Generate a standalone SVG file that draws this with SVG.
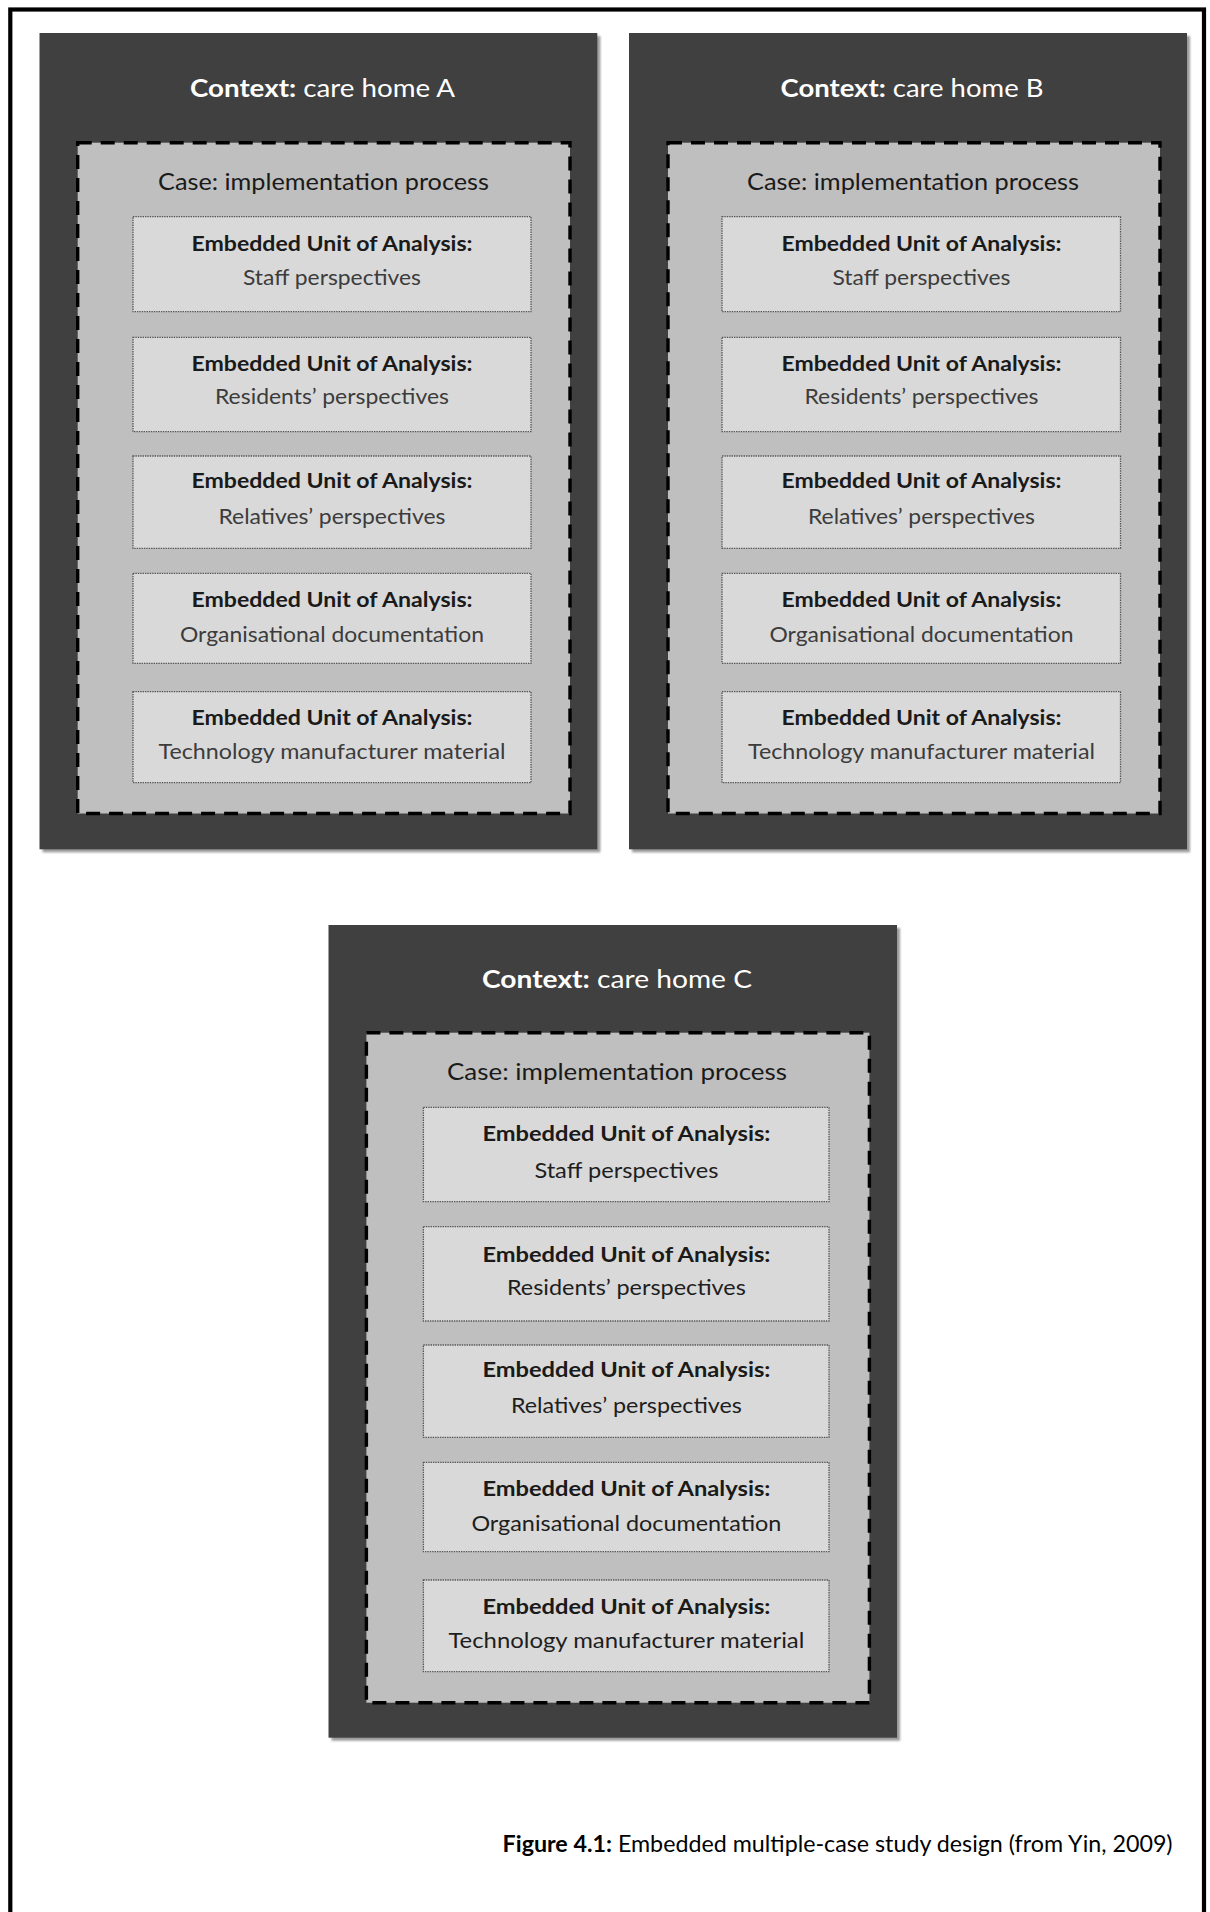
<svg xmlns="http://www.w3.org/2000/svg" width="1210" height="1912" viewBox="0 0 1210 1912">
<defs>
<filter id="sh" x="-5%" y="-5%" width="110%" height="110%"><feGaussianBlur stdDeviation="1.2"/></filter>
<style>
text{font-family:Lato,"Liberation Sans",sans-serif}
.ctx{fill:#404040}
.shadow{fill:#9a9a9a;filter:url(#sh)}
.case{fill:#bfbfbf;stroke:#000;stroke-width:3.4;stroke-dasharray:14 9}
.unit{fill:#d9d9d9;stroke:#555;stroke-width:1.3;stroke-dasharray:1.4 1}
.title{fill:#fff;font-size:25.5px;text-anchor:middle}
.ct{fill:#1a1a1a;font-size:24px;text-anchor:middle}
.u1{fill:#1a1a1a;font-size:21px;font-weight:bold;text-anchor:middle}
.u2{fill:#3c3c3c;font-size:21px;text-anchor:middle}
.u2c{fill:#1e1e1e;font-size:21px;text-anchor:middle}
.b{font-weight:bold}
</style>
</defs>
<rect x="10.3" y="9.5" width="1193.7" height="1930" fill="none" stroke="#000" stroke-width="4.2"/>

<g id="context-a">
<rect class="shadow" x="42.5" y="36" width="557.8" height="816.3"/>
<rect class="ctx" x="39.5" y="33" width="557.8" height="816.3"/>
<text class="title" x="322.5" y="96.7" textLength="265" lengthAdjust="spacingAndGlyphs"><tspan class="b">Context:</tspan> care home A</text>
</g>
<g id="case-a">
<rect class="case" x="77.7" y="142.7" width="492.3" height="670.8"/>
<text class="ct" x="323.5" y="190" textLength="331" lengthAdjust="spacingAndGlyphs">Case: implementation process</text>
</g>
<g id="unit-a1">
<rect class="unit" x="133" y="216.7" width="398" height="95"/>
<text class="u1" x="332" y="250.7" textLength="281" lengthAdjust="spacingAndGlyphs">Embedded Unit of Analysis:</text>
<text class="u2" x="332" y="285" textLength="178" lengthAdjust="spacingAndGlyphs">Staff perspectives</text>
</g>
<g id="unit-a2">
<rect class="unit" x="133" y="337.3" width="398" height="94.4"/>
<text class="u1" x="332" y="370.7" textLength="281" lengthAdjust="spacingAndGlyphs">Embedded Unit of Analysis:</text>
<text class="u2" x="332" y="404.3" textLength="234" lengthAdjust="spacingAndGlyphs">Residents’ perspectives</text>
</g>
<g id="unit-a3">
<rect class="unit" x="133" y="456" width="398" height="92.3"/>
<text class="u1" x="332" y="488" textLength="281" lengthAdjust="spacingAndGlyphs">Embedded Unit of Analysis:</text>
<text class="u2" x="332" y="524" textLength="227" lengthAdjust="spacingAndGlyphs">Relatives’ perspectives</text>
</g>
<g id="unit-a4">
<rect class="unit" x="133" y="573.3" width="398" height="90"/>
<text class="u1" x="332" y="607.3" textLength="281" lengthAdjust="spacingAndGlyphs">Embedded Unit of Analysis:</text>
<text class="u2" x="332" y="642" textLength="304" lengthAdjust="spacingAndGlyphs">Organisational documentation</text>
</g>
<g id="unit-a5">
<rect class="unit" x="133" y="691.7" width="398" height="91"/>
<text class="u1" x="332" y="725" textLength="281" lengthAdjust="spacingAndGlyphs">Embedded Unit of Analysis:</text>
<text class="u2" x="332" y="759" textLength="347" lengthAdjust="spacingAndGlyphs">Technology manufacturer material</text>
</g>

<g id="context-b">
<rect class="shadow" x="632" y="36" width="558" height="816.3"/>
<rect class="ctx" x="629" y="33" width="558" height="816.3"/>
<text class="title" x="912" y="96.7" textLength="263" lengthAdjust="spacingAndGlyphs"><tspan class="b">Context:</tspan> care home B</text>
</g>
<g id="case-b">
<rect class="case" x="668" y="142.7" width="492" height="670.8"/>
<text class="ct" x="913" y="190" textLength="332" lengthAdjust="spacingAndGlyphs">Case: implementation process</text>
</g>
<g id="unit-b1">
<rect class="unit" x="722" y="216.7" width="398.5" height="95"/>
<text class="u1" x="921.5" y="250.7" textLength="280" lengthAdjust="spacingAndGlyphs">Embedded Unit of Analysis:</text>
<text class="u2" x="921.5" y="285" textLength="178" lengthAdjust="spacingAndGlyphs">Staff perspectives</text>
</g>
<g id="unit-b2">
<rect class="unit" x="722" y="337.3" width="398.5" height="94.4"/>
<text class="u1" x="921.5" y="370.7" textLength="280" lengthAdjust="spacingAndGlyphs">Embedded Unit of Analysis:</text>
<text class="u2" x="921.5" y="404.3" textLength="234" lengthAdjust="spacingAndGlyphs">Residents’ perspectives</text>
</g>
<g id="unit-b3">
<rect class="unit" x="722" y="456" width="398.5" height="92.3"/>
<text class="u1" x="921.5" y="488" textLength="280" lengthAdjust="spacingAndGlyphs">Embedded Unit of Analysis:</text>
<text class="u2" x="921.5" y="524" textLength="227" lengthAdjust="spacingAndGlyphs">Relatives’ perspectives</text>
</g>
<g id="unit-b4">
<rect class="unit" x="722" y="573.3" width="398.5" height="90"/>
<text class="u1" x="921.5" y="607.3" textLength="280" lengthAdjust="spacingAndGlyphs">Embedded Unit of Analysis:</text>
<text class="u2" x="921.5" y="642" textLength="304" lengthAdjust="spacingAndGlyphs">Organisational documentation</text>
</g>
<g id="unit-b5">
<rect class="unit" x="722" y="691.7" width="398.5" height="91"/>
<text class="u1" x="921.5" y="725" textLength="280" lengthAdjust="spacingAndGlyphs">Embedded Unit of Analysis:</text>
<text class="u2" x="921.5" y="759" textLength="347" lengthAdjust="spacingAndGlyphs">Technology manufacturer material</text>
</g>

<g id="context-c">
<rect class="shadow" x="331.5" y="928" width="568.5" height="812.7"/>
<rect class="ctx" x="328.5" y="925" width="568.5" height="812.7"/>
<text class="title" x="617" y="987.7" textLength="270" lengthAdjust="spacingAndGlyphs"><tspan class="b">Context:</tspan> care home C</text>
</g>
<g id="case-c">
<rect class="case" x="366.4" y="1032.7" width="503" height="670"/>
<text class="ct" x="617" y="1080" textLength="340" lengthAdjust="spacingAndGlyphs">Case: implementation process</text>
</g>
<g id="unit-c1">
<rect class="unit" x="423.4" y="1107.3" width="405.6" height="94.4"/>
<text class="u1" x="626.4" y="1140.7" textLength="288" lengthAdjust="spacingAndGlyphs">Embedded Unit of Analysis:</text>
<text class="u2c" x="626.4" y="1177.7" textLength="184" lengthAdjust="spacingAndGlyphs">Staff perspectives</text>
</g>
<g id="unit-c2">
<rect class="unit" x="423.4" y="1226.7" width="405.6" height="94.3"/>
<text class="u1" x="626.4" y="1261.7" textLength="288" lengthAdjust="spacingAndGlyphs">Embedded Unit of Analysis:</text>
<text class="u2c" x="626.4" y="1295" textLength="239" lengthAdjust="spacingAndGlyphs">Residents’ perspectives</text>
</g>
<g id="unit-c3">
<rect class="unit" x="423.4" y="1345" width="405.6" height="92.3"/>
<text class="u1" x="626.4" y="1376.7" textLength="288" lengthAdjust="spacingAndGlyphs">Embedded Unit of Analysis:</text>
<text class="u2c" x="626.4" y="1412.7" textLength="231" lengthAdjust="spacingAndGlyphs">Relatives’ perspectives</text>
</g>
<g id="unit-c4">
<rect class="unit" x="423.4" y="1462.3" width="405.6" height="89.4"/>
<text class="u1" x="626.4" y="1495.7" textLength="288" lengthAdjust="spacingAndGlyphs">Embedded Unit of Analysis:</text>
<text class="u2c" x="626.4" y="1531" textLength="310" lengthAdjust="spacingAndGlyphs">Organisational documentation</text>
</g>
<g id="unit-c5">
<rect class="unit" x="423.4" y="1580" width="405.6" height="91.7"/>
<text class="u1" x="626.4" y="1614.3" textLength="288" lengthAdjust="spacingAndGlyphs">Embedded Unit of Analysis:</text>
<text class="u2c" x="626.4" y="1647.7" textLength="356" lengthAdjust="spacingAndGlyphs">Technology manufacturer material</text>
</g>

<g id="connectors"></g>

<g id="caption">
<text x="502.6" y="1852" font-size="22.5" fill="#000" textLength="670" lengthAdjust="spacingAndGlyphs"><tspan class="b">Figure 4.1:</tspan> Embedded multiple-case study design (from Yin, 2009)</text>
</g>
</svg>
